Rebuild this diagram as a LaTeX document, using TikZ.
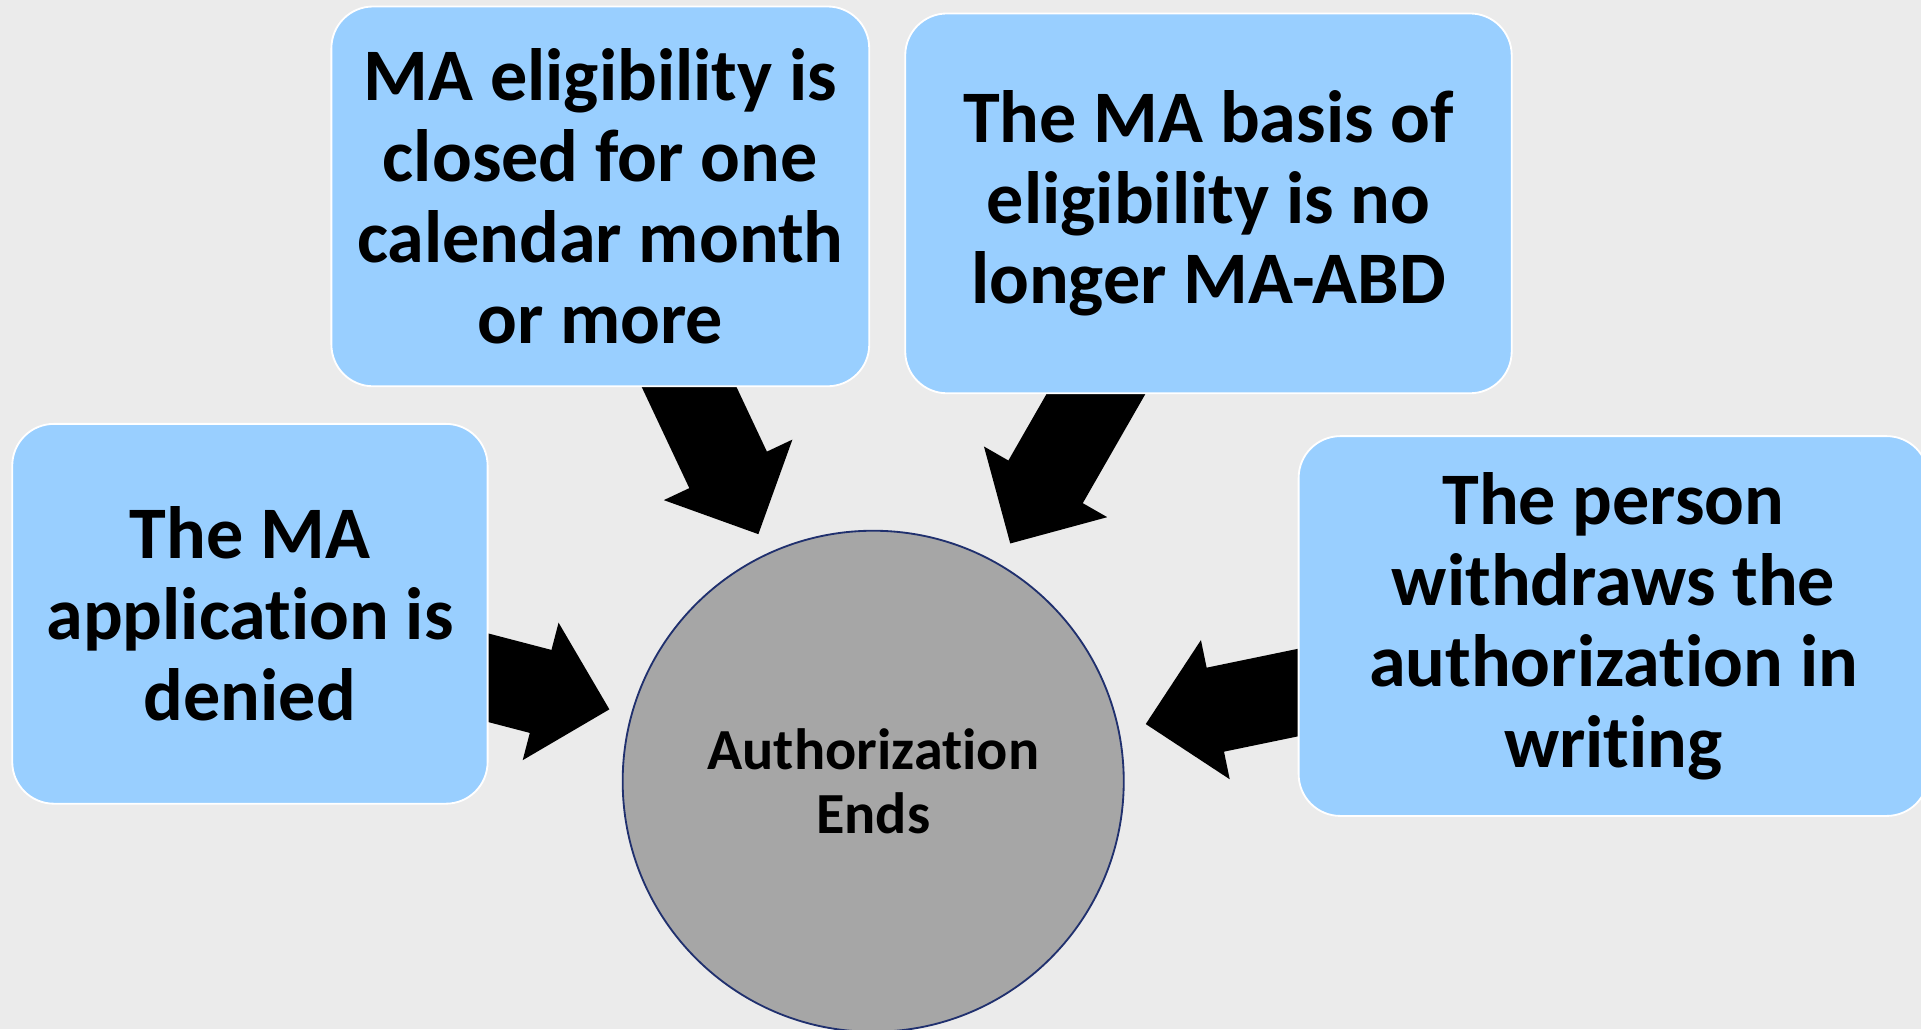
\documentclass[tikz,border=0pt]{standalone}
\usepackage{fontspec}
\setmainfont{Carlito}[Ligatures=NoCommon]
\usetikzlibrary{calc}
\definecolor{bg}{RGB}{235,235,235}
\definecolor{boxblue}{RGB}{153,207,255}
\definecolor{circfill}{RGB}{166,166,166}
\definecolor{navy}{RGB}{32,48,110}
\tikzset{
 cause/.style={rectangle, rounded corners=34pt, fill=boxblue, draw=white, line width=1.5pt, align=center, inner sep=0pt, font=\fontsize{60.5}{66}\selectfont\bfseries},
 hub/.style={circle, fill=circfill, draw=navy, line width=1.5pt, align=center, inner sep=0pt, minimum size=409pt, font=\fontsize{47.5}{52}\selectfont\bfseries},
 blk/.style={fill=black}
}
\newcommand\blockarrow[2]{%
 \fill[blk] let \p1=(#1), \p2=(#2), \n1={atan2(\y2-\y1,\x2-\x1)}, \n2={\n1+90}, \n3={\n1+180}, \n4={\n1-90} in
 ($(\p1)+(\n2:35pt)$) -- ($(\p2)+(\n3:58pt)+(\n2:35pt)$) -- ($(\p2)+(\n3:58pt)+(\n2:58pt)$) -- (\p2)
 -- ($(\p2)+(\n3:58pt)+(\n4:58pt)$) -- ($(\p2)+(\n3:58pt)+(\n4:35pt)$) -- ($(\p1)+(\n4:35pt)$) -- cycle;}
\begin{document}
\begin{tikzpicture}[x=1pt,y=-1pt]
\useasboundingbox (0,0) rectangle (1568,840);
\fill[bg] (0,0) rectangle (1568,840);
\clip (0,0) rectangle (1568,840);
% arrow anchor points
\coordinate (s1) at (370.9,546);
\coordinate (t1) at (497.4,579);
\coordinate (s2) at (550.2,289.8);
\coordinate (t2) at (619,436);
\coordinate (s3) at (909,296.4);
\coordinate (t3) at (824.6,443.6);
\coordinate (s4) at (1088,559.4);
\coordinate (t4) at (935.2,591);
\blockarrow{s1}{t1}
\blockarrow{s2}{t2}
\blockarrow{s3}{t3}
\blockarrow{s4}{t4}
% cause boxes
\node[cause, minimum width=388pt, minimum height=310pt] (b1) at (204,501) {The MA\\application is\\denied};
\node[cause, minimum width=439pt, minimum height=310pt] (b2) at (490,160.3) {MA eligibility is\\closed for one\\calendar month\\or more};
\node[cause, minimum width=495pt, minimum height=310pt] (b3) at (986.4,166) {The MA basis of\\eligibility is no\\longer MA-ABD};
\node[cause, minimum width=514pt, minimum height=310pt] (b4) at (1317,511) {The person\\withdraws the\\authorization in\\writing};
% hub
\node[hub] (hub) at (712.75,637.7) {Authorization\\Ends};
\end{tikzpicture}
\end{document}
